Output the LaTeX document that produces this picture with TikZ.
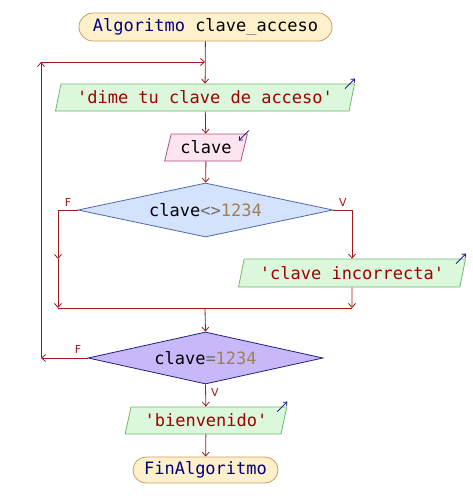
\documentclass[tikz,border=0pt]{standalone}
\usepackage{fontspec}
\setmonofont{DejaVu Sans Mono}
\newfontfamily\lblfont{DejaVu Sans}
\usetikzlibrary{shapes.geometric,shapes.misc,arrows.meta}
\definecolor{flow}{RGB}{160,24,24}
\definecolor{kw}{RGB}{0,0,128}
\definecolor{str}{RGB}{160,0,0}
\definecolor{num}{RGB}{160,128,80}
\definecolor{op}{RGB}{112,112,112}
\definecolor{termfill}{RGB}{255,240,204}
\definecolor{termdraw}{RGB}{200,160,96}
\definecolor{outfill}{RGB}{220,248,220}
\definecolor{outdraw}{RGB}{112,184,112}
\definecolor{infill}{RGB}{252,228,240}
\definecolor{indraw}{RGB}{176,80,128}
\definecolor{d1fill}{RGB}{212,226,252}
\definecolor{d1draw}{RGB}{74,106,168}
\definecolor{d2fill}{RGB}{200,184,250}
\definecolor{d2draw}{RGB}{32,32,122}
\begin{document}
\begin{tikzpicture}[x=1pt,y=-1pt,
  txt/.style={font=\ttfamily\fontsize{17}{20}\selectfont},
  term/.style={txt,rounded rectangle,draw=termdraw,fill=termfill,line width=0.8pt,inner sep=0pt},
  io/.style={txt,trapezium,trapezium left angle=70,trapezium right angle=110,
    trapezium stretches=true,inner sep=0pt,minimum height=27pt,line width=0.8pt},
  outbox/.style={io,draw=outdraw,fill=outfill,text=str},
  inbox/.style={io,draw=indraw,fill=infill},
  cond/.style={txt,diamond,inner sep=0pt,aspect=4.7,line width=0.8pt},
  arr/.style={-{Straight Barb[length=4pt,width=7pt]}},
  flowline/.style={draw=flow,line width=0.8pt},
  icon/.style={draw=kw,line width=0.7pt,-{Straight Barb[length=3pt,width=5pt]}},
  lbl/.style={font=\lblfont\fontsize{11}{13}\selectfont,text=flow,inner sep=0pt}]
\useasboundingbox (0,0) rectangle (472,496);

\node[term,minimum width=253pt,minimum height=28pt] (start) at (205.5,27)
  {\textcolor{kw}{Algoritmo} clave\textcolor{op}{\_}acceso};
\node[outbox,minimum width=300pt] (p1) at (205,97.5) {'dime tu clave de acceso'};
\node[inbox,minimum width=83pt] (p2) at (206,147.5) {clave};
\node[cond,draw=d1draw,fill=d1fill,minimum width=255pt,minimum height=54pt] (d1) at (205.5,210)
  {clave\textcolor{op}{<>}\textcolor{num}{1234}};
\node[outbox,minimum width=227pt,minimum height=28pt] (p3) at (352,273) {'clave incorrecta'};
\node[cond,draw=d2draw,fill=d2fill,minimum width=235pt,minimum height=52pt] (d2) at (205.5,358)
  {clave\textcolor{op}{=}\textcolor{num}{1234}};
\node[outbox,minimum width=162pt] (p4) at (206,420.5) {'bienvenido'};
\node[term,minimum width=145pt,minimum height=26pt] (end) at (205.5,470)
  {\textcolor{kw}{FinAlgoritmo}};

\coordinate (lm) at (58,259);
\coordinate (lj) at (58,308);
\coordinate (rj) at (352,308);
\coordinate (mj) at (205,308);
\coordinate (lb) at (41,358);
\coordinate (lt) at (41,62);
\coordinate (mt) at (205,62);

\draw[flowline,arr] (start) -- (p1);
\draw[flowline,arr] (p1) -- (p2);
\draw[flowline,arr] (p2) -- (d1);
\draw[flowline,arr] (d1.west) -| (lm);
\draw[flowline,arr] (lm) -- (lj);
\draw[flowline,arr] (d1.east) -| (p3.north);
\draw[flowline,arr] (p3.south) -- (rj);
\draw[flowline] (lj) -- (rj);
\draw[flowline,arr] (mj) -- (d2.north);
\draw[flowline,arr] (d2.west) -- (lb);
\draw[flowline,arr] (lb) -- (lt);
\draw[flowline,arr] (lt) -- (mt);
\draw[flowline,arr] (d2.south) -- (p4);
\draw[flowline,arr] (p4) -- (end);

\draw[icon] ([shift={(-10,5)}]p1.top right corner) -- ++(10,-10);
\draw[icon] ([shift={(1,-3)}]p2.top right corner) -- ++(-10,10);
\draw[icon] ([shift={(-10,5)}]p3.top right corner) -- ++(10,-10);
\draw[icon] ([shift={(-10,5)}]p4.top right corner) -- ++(10,-10);

\node[lbl] (f1) at (68,202) {F};
\node[lbl] (v1) at (343,202) {V};
\node[lbl] (f2) at (78,349) {F};
\node[lbl] (v2) at (215,392) {V};
\end{tikzpicture}
\end{document}
